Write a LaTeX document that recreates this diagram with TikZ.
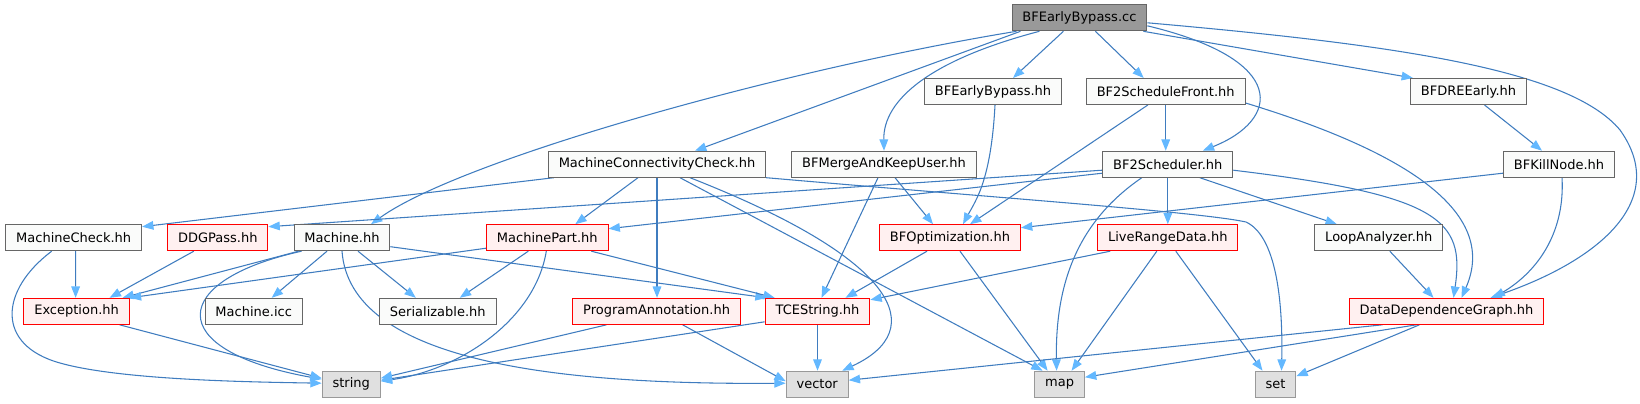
\documentclass[tikz,border=0pt]{standalone}
\usepackage{fontspec}
\setmainfont{DejaVu Sans}
\usepackage{xcolor}
\usepackage{tikz}
\usetikzlibrary{arrows.meta, calc, backgrounds}
\definecolor{edgeblue}{HTML}{3F7CBF}
\definecolor{tipblue}{HTML}{63B8FF}
\definecolor{rootgray}{HTML}{999999}
\definecolor{boxgray}{HTML}{666666}
\definecolor{sysfill}{HTML}{E0E0E0}
\definecolor{truncfill}{HTML}{FFF0F0}
\definecolor{filefill}{HTML}{FAFBFA}

\begin{document}
\begin{tikzpicture}[
  x=0.75pt, y=-0.75pt,
  file/.style={draw=boxgray, fill=filefill, line width=0.75pt, minimum height=19.5pt,
    inner xsep=7.8pt, inner ysep=0pt, font=\fontsize{9.75}{11}\selectfont},
  root/.style={file, fill=rootgray},
  trunc/.style={file, draw=red, fill=truncfill},
  sys/.style={file, draw=rootgray, fill=sysfill},
  dep/.style={draw=edgeblue, line width=0.8pt,
    -{Triangle[length=8.5pt, width=6.5pt, color=tipblue, fill=tipblue]}},
]
  \useasboundingbox (0,0) rectangle (1640,403);

  % Root
  \node[root] (cc) at (1079.4, 17.8) {BFEarlyBypass.cc};

  % Second row
  \node[file] (bfebhh) at (993, 91.5) {BFEarlyBypass.hh};
  \node[file] (front) at (1165.7, 91.5) {BF2ScheduleFront.hh};
  \node[file] (dre) at (1468.5, 91.5) {BFDREEarly.hh};

  % Third row
  \node[file] (mcc) at (657, 164.2) {MachineConnectivityCheck.hh};
  \node[file] (merge) at (884, 164.2) {BFMergeAndKeepUser.hh};
  \node[file] (sched) at (1167.8, 164.2) {BF2Scheduler.hh};
  \node[file] (kill) at (1559, 164.2) {BFKillNode.hh};

  % Fourth row
  \node[file] (mcheck) at (73.7, 237.7) {MachineCheck.hh};
  \node[trunc] (ddgpass) at (217.8, 237.7) {DDGPass.hh};
  \node[file] (machine) at (342, 237.7) {Machine.hh};
  \node[trunc] (mpart) at (547.3, 237.7) {MachinePart.hh};
  \node[trunc] (bfopt) at (950, 237.7) {BFOptimization.hh};
  \node[trunc] (lrd) at (1167.8, 237.7) {LiveRangeData.hh};
  \node[file] (loop) at (1378.8, 237.7) {LoopAnalyzer.hh};

  % Fifth row
  \node[trunc] (except) at (76.6, 311.3) {Exception.hh};
  \node[file] (icc) at (253.7, 311.3) {Machine.icc};
  \node[file] (serial) at (437.8, 311.3) {Serializable.hh};
  \node[trunc] (progann) at (656.6, 311.3) {ProgramAnnotation.hh};
  \node[trunc] (tcestr) at (817.5, 311.3) {TCEString.hh};
  \node[trunc] (ddg) at (1446.5, 311.3) {DataDependenceGraph.hh};

  % System headers
  \node[sys] (hstring) at (351.2, 384.2) {string};
  \node[sys] (hvector) at (817.2, 384.2) {vector};
  \node[sys] (hmap) at (1059.6, 384.2) {map};
  \node[sys] (hset) at (1275.5, 384.2) {set};

  \begin{scope}[on background layer]
  % From the root
  \draw[dep] ($(cc.south west)+(5,0)$) .. controls (780,70) and (460,160) .. ($(machine.north)+(29,0)$);
  \draw[dep] ($(cc.south west)+(9,0)$) -- ($(mcc.north)+(38,0)$);
  \draw[dep] ($(cc.south)+(-40,0)$) .. controls (930,60) and (883,100) .. (merge.north);
  \draw[dep] ($(cc.south)+(-16,0)$) -- ($(bfebhh.north)+(20,0)$);
  \draw[dep] ($(cc.south)+(16,0)$) -- ($(front.north)+(-22,0)$);
  \draw[dep] ($(cc.east)+(0,8)$) .. controls (1290,60) and (1280,120) .. ($(sched.north)+(35,0)$);
  \draw[dep] ($(cc.south east)+(-4,0)$) -- ($(dre.north west)+(3,0)$);
  \draw[dep] ($(cc.east)+(0,5)$) .. controls (1400,45) and (1570,70) .. (1620,130)
    .. controls (1670,200) and (1600,260) .. ($(ddg.north)+(44,0)$);

  % Second row
  \draw[dep] ($(bfebhh.south)+(2,0)$) .. controls (991,180) and (976,200) .. ($(bfopt.north)+(13,0)$);
  \draw[dep] (front.south) -- (front.south |- sched.north);
  \draw[dep] ($(front.south west)+(62,0)$) -- ($(bfopt.north)+(20,0)$);
  \draw[dep] ($(front.south east)+(0,-2)$) .. controls (1400,150) and (1500,210) .. ($(ddg.north)+(15,0)$);
  \draw[dep] ($(dre.south)+(16,0)$) -- ($(kill.north)+(-17,0)$);

  % Third row
  \draw[dep] ($(mcc.south west)+(6,0)$) -- ($(mcheck.east)+(0,-11)$);
  \draw[dep] ($(mcc.south)+(-19,0)$) -- ($(mpart.north)+(28,0)$);
  \draw[dep] (mcc.south) -- (mcc.south |- progann.north);
  \draw[dep] ($(mcc.south)+(33,0)$) .. controls (900,260) and (930,330) .. ($(hvector.north)+(25,0)$);
  \draw[dep] ($(mcc.south)+(23,0)$) -- ($(hmap.north)+(-17,0)$);
  \draw[dep] (mcc.south east) .. controls (1000,198) and (1200,212) .. (1246,222)
    .. controls (1276,236) and (1283,300) .. ($(hset.north)+(6,0)$);
  \draw[dep] ($(merge.south)+(-6,0)$) -- ($(tcestr.north)+(4,0)$);
  \draw[dep] ($(merge.south)+(11,0)$) -- ($(bfopt.north)+(-17,0)$);
  \draw[dep] ($(sched.west)+(0,6)$) -- ($(ddgpass.east)+(0,-11)$);
  \draw[dep] ($(sched.west)+(0,9)$) -- ($(mpart.east)+(0,-9)$);
  \draw[dep] (sched.south) -- (sched.south |- lrd.north);
  \draw[dep] ($(sched.south)+(32,0)$) -- ($(loop.north)+(-42,0)$);
  \draw[dep] ($(sched.east)+(0,6)$) .. controls (1440,195) and (1465,220) .. ($(ddg.north)+(7,0)$);
  \draw[dep] ($(sched.south)+(-26,0)$) .. controls (1080,220) and (1055,280) .. ($(hmap.north)+(-3,0)$);
  \draw[dep] ($(kill.west)+(0,9)$) -- ($(bfopt.east)+(0,-10)$);
  \draw[dep] ($(kill.south)+(3,0)$) .. controls (1565,230) and (1540,270) .. ($(ddg.north)+(47,0)$);

  % Fourth row
  \draw[dep] ($(mcheck.south)+(2,0)$) -- ($(except.north)+(-1,0)$);
  \draw[dep] ($(mcheck.south)+(-22,0)$) .. controls (0,290) and (-5,345) .. (60,363)
    .. controls (120,380) and (250,382) .. ($(hstring.west)+(0,-1)$);
  \draw[dep] ($(ddgpass.south)+(-24,0)$) -- ($(except.north)+(33,0)$);
  \draw[dep] ($(machine.south west)+(5,0)$) -- ($(except.north)+(46,0)$);
  \draw[dep] ($(machine.south west)+(8,0)$) .. controls (170,280) and (160,350) .. ($(hstring.west)+(0,-5)$);
  \draw[dep] ($(machine.south)+(-15,0)$) -- ($(icc.north)+(18,0)$);
  \draw[dep] ($(machine.south)+(16,0)$) -- ($(serial.north)+(-22,0)$);
  \draw[dep] (machine.south) .. controls (350,360) and (550,385) .. ($(hvector.west)+(0,-1)$);
  \draw[dep] ($(machine.east)+(0,9)$) -- ($(tcestr.north west)+(2,0)$);
  \draw[dep] ($(mpart.south west)+(0,-3)$) -- (except.north east);
  \draw[dep] ($(mpart.south)+(-19,0)$) -- ($(serial.north)+(22,0)$);
  \draw[dep] ($(mpart.south)+(-1,0)$) .. controls (535,320) and (460,370) .. ($(hstring.east)+(0,-3)$);
  \draw[dep] ($(mpart.south)+(44,0)$) -- ($(tcestr.north west)+(10,0)$);
  \draw[dep] ($(bfopt.south)+(-23,0)$) -- ($(tcestr.north)+(28,0)$);
  \draw[dep] ($(bfopt.south)+(10,0)$) -- ($(hmap.north)+(-12,0)$);
  \draw[dep] ($(lrd.south west)+(13,0)$) -- ($(tcestr.north east)+(0,2)$);
  \draw[dep] ($(lrd.south)+(-11,0)$) -- ($(hmap.north)+(12,0)$);
  \draw[dep] ($(lrd.south)+(8,0)$) -- ($(hset.north)+(-13,0)$);
  \draw[dep] ($(loop.south)+(11,0)$) -- ($(ddg.north)+(-13,0)$);

  % Fifth row
  \draw[dep] ($(except.south)+(43,0)$) -- ($(hstring.west)+(0,-6)$);
  \draw[dep] ($(progann.south)+(-50,0)$) -- ($(hstring.east)+(0,-6)$);
  \draw[dep] ($(progann.south)+(26,0)$) -- ($(hvector.west)+(0,-3)$);
  \draw[dep] ($(tcestr.south west)+(0,-3)$) -- ($(hstring.east)+(0,-4)$);
  \draw[dep] (tcestr.south) -- (tcestr.south |- hvector.north);
  \draw[dep] ($(ddg.south)+(-64,0)$) -- ($(hvector.east)+(0,-4)$);
  \draw[dep] ($(ddg.south)+(-30,0)$) -- ($(hmap.east)+(0,-7)$);
  \draw[dep] ($(ddg.south)+(-27,0)$) -- ($(hset.east)+(0,-8)$);
  \end{scope}

\end{tikzpicture}
\end{document}
